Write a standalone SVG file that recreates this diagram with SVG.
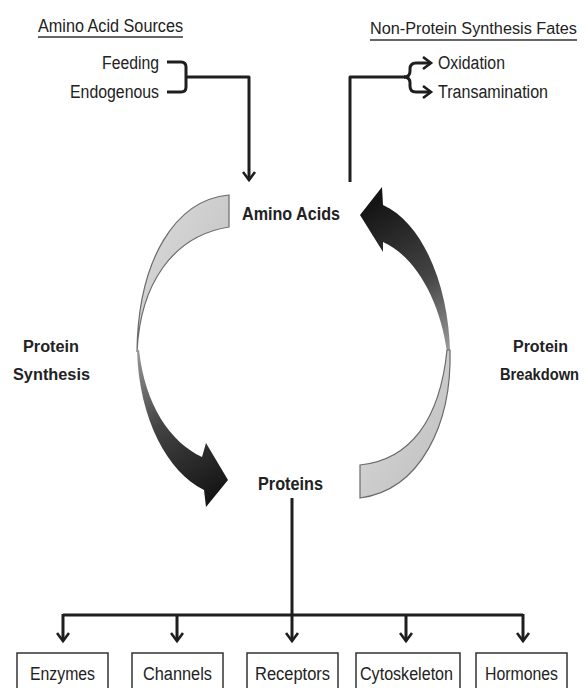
<svg xmlns="http://www.w3.org/2000/svg" width="588" height="688" viewBox="0 0 588 688">
<style>
text{font-family:"Liberation Sans",Arial,sans-serif;fill:#222;font-size:18px}
.b{font-weight:bold}
.s16{font-size:16px}
.ln{fill:none;stroke:#1e1e1e;stroke-width:3;stroke-linejoin:round}
.ul{stroke:#333;stroke-width:1.5}
.box{fill:#fff;stroke:#333;stroke-width:1.5}
.light{stroke:#6a6a6a;stroke-width:1.2}
</style>
<defs>
<marker id="chev" viewBox="0 0 14 14" refX="11" refY="7" markerWidth="14" markerHeight="14" markerUnits="userSpaceOnUse" orient="auto">
<path d="M3,1 L11,7 L3,13" fill="none" stroke="#1e1e1e" stroke-width="2.6"/>
</marker>
<linearGradient id="darkL" gradientUnits="userSpaceOnUse" x1="137" y1="350" x2="225" y2="490">
<stop offset="0" stop-color="#9a9a9a"/><stop offset="0.45" stop-color="#444"/><stop offset="1" stop-color="#151515"/>
</linearGradient>
<linearGradient id="darkR" gradientUnits="userSpaceOnUse" x1="450" y1="350" x2="365" y2="210">
<stop offset="0" stop-color="#9a9a9a"/><stop offset="0.45" stop-color="#444"/><stop offset="1" stop-color="#151515"/>
</linearGradient>
<linearGradient id="lightG" x1="0" y1="0" x2="1" y2="1">
<stop offset="0" stop-color="#dcdcdc"/><stop offset="1" stop-color="#bdbdbd"/>
</linearGradient>
</defs>

<g id="headers">
<text x="38" y="32" textLength="145" lengthAdjust="spacingAndGlyphs">Amino Acid Sources</text>
<line class="ul" x1="38" y1="37" x2="183" y2="37"/>
<text class="s16" x="370" y="34" textLength="207" lengthAdjust="spacingAndGlyphs">Non-Protein Synthesis Fates</text>
<line class="ul" x1="370" y1="40" x2="577" y2="40"/>
</g>

<g id="sources">
<text x="102" y="69" textLength="57" lengthAdjust="spacingAndGlyphs">Feeding</text>
<text x="70" y="98" textLength="89" lengthAdjust="spacingAndGlyphs">Endogenous</text>
</g>

<g id="fates">
<text x="438" y="69" textLength="67" lengthAdjust="spacingAndGlyphs">Oxidation</text>
<text x="438" y="98" textLength="110" lengthAdjust="spacingAndGlyphs">Transamination</text>
</g>

<g id="amino-acids"><text class="b" x="242" y="220" textLength="98" lengthAdjust="spacingAndGlyphs">Amino Acids</text></g>
<g id="proteins"><text class="b" x="258" y="490" textLength="65" lengthAdjust="spacingAndGlyphs">Proteins</text></g>

<g id="synthesis-label">
<text class="b s16" x="23" y="352" textLength="56" lengthAdjust="spacingAndGlyphs">Protein</text>
<text class="b s16" x="13" y="380" textLength="77" lengthAdjust="spacingAndGlyphs">Synthesis</text>
</g>
<g id="breakdown-label">
<text class="b s16" x="513" y="352" textLength="55" lengthAdjust="spacingAndGlyphs">Protein</text>
<text class="b s16" x="500" y="380" textLength="79" lengthAdjust="spacingAndGlyphs">Breakdown</text>
</g>

<g id="cycle">
<path class="light" fill="url(#lightG)" d="M229,195 C175,200 138,260 137,352 C140,285 172,236 229,227 Z"/>
<path fill="url(#darkL)" d="M137,350 C139,420 168,472 204,490 L206,507 L228,480 L206,443 L202,457 C170,442 145,405 139,350 Z"/>
<path fill="url(#darkR)" d="M450,352 C449,290 425,224 383,205 L382,187 L360,215 L383,252 L383,242 C415,256 440,300 447,352 Z"/>
<path class="light" fill="url(#lightG)" d="M450,350 C452,425 420,490 360,498 L360,465 C410,460 440,420 447,350 Z"/>
</g>

<g id="connectors">
<path class="ln" d="M167,62 H181 Q186,62 186,67 V87 Q186,92 181,92 H167"/>
<path class="ln" d="M186,77 H249 V180" marker-end="url(#chev)"/>
<path class="ln" d="M350,182 V77 H405"/>
<path class="ln" d="M404,77 Q410,77 410,71 V69 Q410,63 416,63 H431" marker-end="url(#chev)"/>
<path class="ln" d="M404,77 Q410,77 410,83 V86 Q410,92 416,92 H431" marker-end="url(#chev)"/>
<path class="ln" d="M292,498 V615"/>
<path class="ln" d="M63,615 H523"/>
<path class="ln" d="M63,614 V641" marker-end="url(#chev)"/>
<path class="ln" d="M177,615 V641" marker-end="url(#chev)"/>
<path class="ln" d="M292,615 V641" marker-end="url(#chev)"/>
<path class="ln" d="M406,615 V641" marker-end="url(#chev)"/>
<path class="ln" d="M523,614 V641" marker-end="url(#chev)"/>
</g>

<g id="enzymes"><rect class="box" x="17" y="653" width="91" height="45"/><text x="30" y="680" textLength="65" lengthAdjust="spacingAndGlyphs">Enzymes</text></g>
<g id="channels"><rect class="box" x="132" y="653" width="91" height="45"/><text x="143" y="680" textLength="69" lengthAdjust="spacingAndGlyphs">Channels</text></g>
<g id="receptors"><rect class="box" x="247" y="653" width="91" height="45"/><text x="255" y="680" textLength="75" lengthAdjust="spacingAndGlyphs">Receptors</text></g>
<g id="cytoskeleton"><rect class="box" x="356" y="653" width="104" height="45"/><text x="360" y="680" textLength="93" lengthAdjust="spacingAndGlyphs">Cytoskeleton</text></g>
<g id="hormones"><rect class="box" x="476" y="653" width="91" height="45"/><text x="485" y="680" textLength="73" lengthAdjust="spacingAndGlyphs">Hormones</text></g>
</svg>
